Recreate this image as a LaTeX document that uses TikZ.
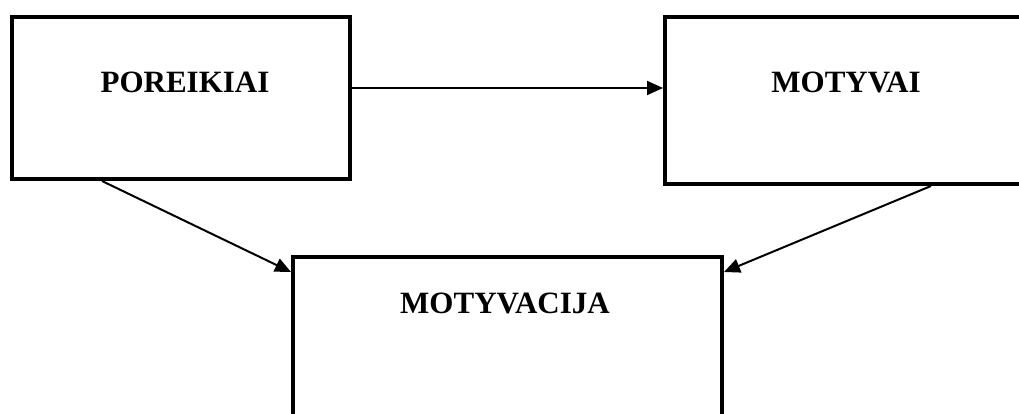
\documentclass[tikz,border=0pt]{standalone}
\usepackage{fontspec}
\setmainfont{Liberation Serif}
\usetikzlibrary{arrows.meta}
\begin{document}
\begin{tikzpicture}[x=1pt,y=-1pt,
  frame/.style={draw=black,line width=4.2pt},
  label/.style={font=\bfseries\fontsize{31}{35}\selectfont,anchor=base},
  link/.style={draw=black,line width=2pt,-{Triangle[length=16pt,width=14pt]}}]
\useasboundingbox (0,0) rectangle (1019,414);
% boxes (right and bottom ones run past the page edge)
\draw[frame] (12,17) rectangle (350,179);
\draw[frame] (665,17) -- (1030,17);
\draw[frame] (665,15) -- (665,184) -- (1030,184);
\draw[frame] (293,430) -- (293,257) -- (722,257) -- (722,430);
% named anchors for the connectors
\coordinate (pR) at (352,88);
\coordinate (mL) at (663,88);
\coordinate (pB) at (102,181);
\coordinate (mB) at (931,186);
\coordinate (vL) at (291,272);
\coordinate (vR) at (724,272);
% labels
\node[label] (poreikiai) at (185,93) {POREIKIAI};
\node[label] (motyvai) at (846,93) {MOTYVAI};
\node[label] (motyvacija) at (505,313) {MOTYVACIJA};
% connectors
\draw[link] (pR) -- (mL);
\draw[link] (pB) -- (vL);
\draw[link] (mB) -- (vR);
\end{tikzpicture}
\end{document}
